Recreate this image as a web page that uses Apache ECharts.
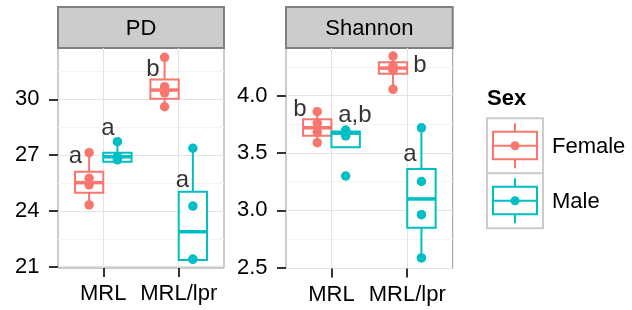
<!DOCTYPE html>
<html>
<head>
<meta charset="utf-8">
<script src="https://cdn.jsdelivr.net/npm/echarts@6/dist/echarts.min.js"></script>
<style>html,body{margin:0;padding:0;background:#fff}#chart{width:632px;height:310px}</style>
</head>
<body>
<div id="chart"></div>
<script>
var groups = ['MRL', 'MRL/lpr'];
var sexes = ['Female', 'Male'];
var sexColors = ['#F8766D', '#00BFC4'];

// box stats per group: [lower whisker, Q1, median, Q3, upper whisker]
var pdFemaleBox = [[24.32, 24.98, 25.52, 26.11, 27.13], [29.6, 30.03, 30.5, 31.07, 32.26]];
var pdMaleBox = [[26.65, 26.65, 26.91, 27.13, 27.72], [21.36, 21.36, 22.88, 25.03, 27.37]];
var pdFemalePts = [[24.32, 25.4, 25.75, 27.13], [29.6, 30.35, 30.68, 32.26]];
var pdMalePts = [[26.75, 26.85, 26.91, 27.72], [21.4, 21.4, 24.26, 27.37]];

var shFemaleBox = [[3.59, 3.65, 3.72, 3.795, 3.86], [4.055, 4.19, 4.24, 4.29, 4.345]];
var shMaleBox = [[3.551, 3.551, 3.673, 3.687, 3.70], [2.586, 2.85, 3.10, 3.36, 3.72]];
var shFemalePts = [[3.59, 3.68, 3.76, 3.86], [4.055, 4.22, 4.26, 4.345]];
var shMalePts = [[3.30, 3.65, 3.68, 3.70], [2.586, 2.963, 3.252, 3.72]];

var pdTicks = [21, 24, 27, 30];
var pdMinor = [22.5, 25.5, 28.5, 31.5];
var shTicks = [2.5, 3.0, 3.5, 4.0];
var shMinor = [2.75, 3.25, 3.75, 4.25];

// significance letters: [x on group axis, y value, text]
var pdLetters = [[0.632, 26.95, 'a'], [1.063, 28.44, 'a'], [1.659, 31.61, 'b'], [2.05, 25.66, 'a']];
var shLetters = [[0.585, 3.876, 'b'], [1.31, 3.832, 'a,b'], [2.168, 4.267, 'b'], [2.036, 3.484, 'a']];

var FONT = 'Liberation Sans, Arial, sans-serif';
var BOX_W = 0.375;

var chart = echarts.init(document.getElementById('chart'));

function dodge(si) { return (si - 0.5) * BOX_W; }

function renderBox(params, api) {
    var x = api.value(0);
    var lo = api.coord([x, api.value(1)]);
    var q1 = api.coord([x, api.value(2)]);
    var md = api.coord([x, api.value(3)]);
    var q3 = api.coord([x, api.value(4)]);
    var hi = api.coord([x, api.value(5)]);
    var half = api.size([BOX_W, 0])[0] / 2;
    var color = api.visual('color');
    var ls = { stroke: color, lineWidth: 2 };
    return {
        type: 'group',
        children: [
            { type: 'line', shape: { x1: hi[0], y1: hi[1], x2: q3[0], y2: q3[1] }, style: ls },
            { type: 'line', shape: { x1: lo[0], y1: lo[1], x2: q1[0], y2: q1[1] }, style: ls },
            { type: 'rect', shape: { x: q3[0] - half, y: q3[1], width: half * 2, height: q1[1] - q3[1] },
              style: { fill: '#fff', stroke: color, lineWidth: 2 } },
            { type: 'line', shape: { x1: md[0] - half, y1: md[1], x2: md[0] + half, y2: md[1] },
              style: { stroke: color, lineWidth: 3.5 } }
        ]
    };
}

function boxSeries(stats, si, xi, yi) {
    return {
        type: 'custom', xAxisIndex: xi, yAxisIndex: yi, silent: true,
        itemStyle: { color: sexColors[si] },
        renderItem: renderBox,
        data: stats.map(function (s, gi) { return [gi + 1 + dodge(si)].concat(s); })
    };
}

function pointSeries(pts, si, xi, yi) {
    var d = [];
    pts.forEach(function (vals, gi) {
        vals.forEach(function (v) { d.push([gi + 1 + dodge(si), v]); });
    });
    return {
        type: 'scatter', xAxisIndex: xi, yAxisIndex: yi, silent: true, z: 3,
        symbolSize: 9.5, itemStyle: { color: sexColors[si], opacity: 1 }, data: d
    };
}

function letterSeries(letters, xi, yi) {
    return {
        type: 'scatter', xAxisIndex: xi, yAxisIndex: yi, silent: true, z: 4,
        symbolSize: 0,
        label: { show: true, position: 'inside', formatter: '{b}', fontSize: 24, color: '#000', fontFamily: FONT },
        data: letters.map(function (l) { return { name: l[2], value: [l[0], l[1]] }; })
    };
}

function xAxis(gi) {
    return {
        type: 'value', gridIndex: gi, min: 0.4, max: 2.6,
        axisLine: { show: false },
        axisTick: { show: true, customValues: [1, 2], length: 9, lineStyle: { color: '#333', width: 2 } },
        axisLabel: { customValues: [1, 2], margin: 15, fontSize: 22, color: '#000', fontFamily: FONT,
            formatter: function (v) { return groups[Math.round(v) - 1]; } },
        splitLine: { show: true, lineStyle: { color: '#e3e3e3', width: 1 } }
    };
}

function yAxis(gi, min, max, ticks, fmt) {
    return {
        type: 'value', gridIndex: gi, min: min, max: max,
        axisLine: { show: false },
        axisTick: { show: true, customValues: ticks, length: 9, lineStyle: { color: '#333', width: 2 } },
        axisLabel: { customValues: ticks, margin: 18.5, fontSize: 22, color: '#000', fontFamily: FONT, formatter: fmt },
        splitLine: { show: true, lineStyle: { color: '#e3e3e3', width: 1 } }
    };
}

function minorAxis(gi, min, max, minor) {
    return {
        type: 'value', gridIndex: gi, min: min, max: max, position: 'right',
        axisLine: { show: false },
        axisTick: { show: false, customValues: minor },
        axisLabel: { show: false },
        splitLine: { show: true, lineStyle: { color: '#f3f3f3', width: 1 } }
    };
}

function strip(x, w, text) {
    return {
        type: 'group', children: [
            { type: 'rect', shape: { x: x, y: 7, width: w, height: 41 },
              style: { fill: '#cccccc', stroke: '#7f7f7f', lineWidth: 2 } },
            { type: 'text', x: x + w / 2, y: 28.5,
              style: { text: text, fill: '#000', font: '22px ' + FONT, align: 'center', verticalAlign: 'middle' } }
        ]
    };
}

function legendKey(y0, si) {
    var c = sexColors[si];
    return {
        type: 'group', children: [
            { type: 'rect', shape: { x: 487, y: y0, width: 56, height: 55 },
              style: { fill: '#fff', stroke: '#cccccc', lineWidth: 2 } },
            { type: 'line', shape: { x1: 515, y1: y0 + 5, x2: 515, y2: y0 + 50 }, style: { stroke: c, lineWidth: 2 } },
            { type: 'rect', shape: { x: 493, y: y0 + 13.5, width: 44, height: 27.5 },
              style: { fill: '#fff', stroke: c, lineWidth: 2 } },
            { type: 'line', shape: { x1: 493, y1: y0 + 27.5, x2: 537, y2: y0 + 27.5 }, style: { stroke: c, lineWidth: 2 } },
            { type: 'circle', shape: { cx: 515, cy: y0 + 27.5, r: 4.5 }, style: { fill: c } },
            { type: 'text', x: 552, y: y0 + 29,
              style: { text: sexes[si], fill: '#000', font: '22px ' + FONT, align: 'left', verticalAlign: 'middle' } }
        ]
    };
}

var option = {
    backgroundColor: '#fff',
    animation: false,
    textStyle: { fontFamily: FONT },
    grid: [
        { left: 58, top: 48, width: 166, height: 220, show: true, borderColor: '#999', borderWidth: 1, backgroundColor: 'transparent' },
        { left: 286, top: 48, width: 166.7, height: 220.5, show: true, borderColor: '#999', borderWidth: 1, backgroundColor: 'transparent' }
    ],
    xAxis: [xAxis(0), xAxis(1)],
    yAxis: [
        yAxis(0, 20.93, 32.76, pdTicks, function (v) { return String(v); }),
        minorAxis(0, 20.93, 32.76, pdMinor),
        yAxis(1, 2.494, 4.415, shTicks, function (v) { return v.toFixed(1); }),
        minorAxis(1, 2.494, 4.415, shMinor)
    ],
    series: [
        boxSeries(pdFemaleBox, 0, 0, 0),
        boxSeries(pdMaleBox, 1, 0, 0),
        pointSeries(pdFemalePts, 0, 0, 0),
        pointSeries(pdMalePts, 1, 0, 0),
        letterSeries(pdLetters, 0, 0),
        boxSeries(shFemaleBox, 0, 1, 2),
        boxSeries(shMaleBox, 1, 1, 2),
        pointSeries(shFemalePts, 0, 1, 2),
        pointSeries(shMalePts, 1, 1, 2),
        letterSeries(shLetters, 1, 2)
    ],
    graphic: [
        strip(58, 166, 'PD'),
        strip(286, 166.7, 'Shannon'),
        { type: 'text', x: 487, y: 99,
          style: { text: 'Sex', fill: '#000', font: 'bold 22px ' + FONT, align: 'left', verticalAlign: 'middle' } },
        legendKey(118.3, 0),
        legendKey(173.3, 1)
    ]
};

chart.setOption(option);
</script>
</body>
</html>
